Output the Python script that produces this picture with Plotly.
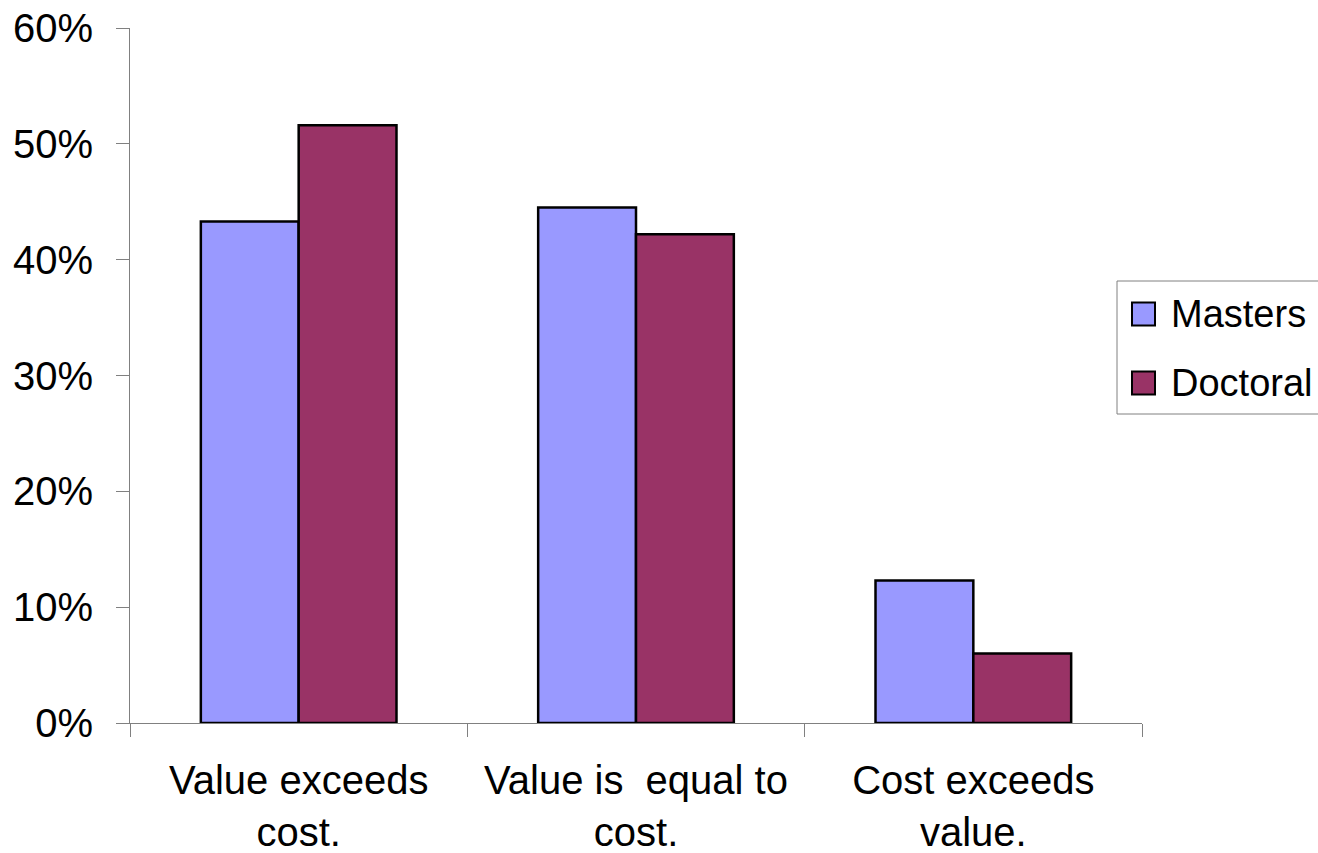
import plotly.graph_objects as go

# Survey responses: perceived value of the degree vs. its cost
categories = ["Value exceeds<br>cost.", "Value is  equal to<br>cost.", "Cost exceeds<br>value."]
series_names = ["Masters", "Doctoral"]
masters = [0.433, 0.445, 0.123]
doctoral = [0.516, 0.422, 0.060]
y_ticks = [0, 0.1, 0.2, 0.3, 0.4, 0.5, 0.6]

colors = ["#9999FF", "#993366"]
FONT = "Liberation Sans, Arial, sans-serif"
FS = 40

W, H = 1318, 853
L, R, T, B = 130, 176, 28, 130
plot_w, plot_h = W - L - R, H - T - B


def px_x(x):
    return (x - L) / plot_w


def px_y(y):
    return (H - B - y) / plot_h


fig = go.Figure()
for name, vals, col in zip(series_names, [masters, doctoral], colors):
    fig.add_trace(go.Bar(
        x=categories, y=vals, name=name,
        marker=dict(color=col, line=dict(color="black", width=2.5)),
        showlegend=False,
    ))

fig.update_layout(
    width=W, height=H,
    margin=dict(l=L, r=R, t=T, b=B, pad=0, autoexpand=False),
    paper_bgcolor="white", plot_bgcolor="white",
    barmode="group", bargap=0.42, bargroupgap=0,
    font=dict(family=FONT, size=FS, color="black"),
)
fig.update_yaxes(
    range=[0, 0.6], tickvals=y_ticks, tickformat=".0%",
    showgrid=False, zeroline=False, automargin=False,
    showline=True, linecolor="#808080", linewidth=1,
    ticks="outside", ticklen=13, tickcolor="#808080", tickwidth=1,
    ticklabelstandoff=15,
)
fig.update_xaxes(
    showgrid=False, showline=True, linecolor="#808080", linewidth=1,
    automargin=False,
    ticks="outside", ticklen=13, tickcolor="#808080", tickwidth=1,
    tickson="boundaries", ticklabelstandoff=22,
)

# Legend frame, swatches and labels
fig.add_shape(type="rect", xref="paper", yref="paper",
              x0=px_x(1117), x1=px_x(1340), y0=px_y(414), y1=px_y(281),
              line=dict(color="#808080", width=1), fillcolor="white", layer="above")
for i, (name, col) in enumerate(zip(series_names, colors)):
    cy = 314 + i * 69
    fig.add_shape(type="rect", xref="paper", yref="paper",
                  x0=px_x(1132), x1=px_x(1155), y0=px_y(cy + 11.5), y1=px_y(cy - 11.5),
                  line=dict(color="black", width=2), fillcolor=col, layer="above")
    fig.add_annotation(xref="paper", yref="paper", x=px_x(1169), y=px_y(cy),
                       text=name, showarrow=False, xanchor="left", yanchor="middle",
                       font=dict(family=FONT, size=38, color="black"))

fig.write_html("out.html")
